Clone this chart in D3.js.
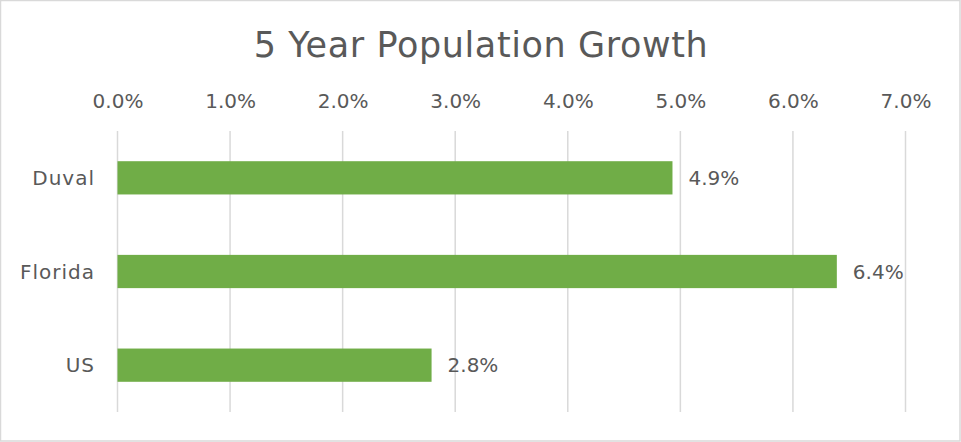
<!DOCTYPE html>
<html><head><meta charset="utf-8">
<script src="https://cdn.jsdelivr.net/npm/d3@7"></script>
<style>
html,body{margin:0;padding:0;background:#fff;}
svg{display:block;font-family:"DejaVu Sans",sans-serif;}
</style></head>
<body>
<svg id="chart" width="961" height="442"></svg>
<script>
const categories = ["Duval", "Florida", "US"];
const values = [0.0493, 0.0639, 0.0279];
const tickValues = [0, 0.01, 0.02, 0.03, 0.04, 0.05, 0.06, 0.07];
const title = "5 Year Population Growth";

const svg = d3.select("#chart");
const W = 961, H = 442;
const margin = {left: 117.5, right: 55.5, top: 131, bottom: 30};

svg.append("rect").attr("x", 0.5).attr("y", 0.5).attr("width", W - 1.5).attr("height", H - 1.5)
  .attr("fill", "#fff").attr("stroke", "#d9d9d9").attr("stroke-width", 1.5);

const x = d3.scaleLinear().domain([0, 0.07]).range([margin.left, W - margin.right]);
const y = d3.scaleBand().domain(categories).range([margin.top, H - margin.bottom]).paddingInner(0.645).paddingOuter(0.3225);

// gridlines
svg.append("g").selectAll("line").data(tickValues).join("line")
  .attr("x1", d => x(d)).attr("x2", d => x(d))
  .attr("y1", margin.top).attr("y2", H - margin.bottom)
  .attr("stroke", "#d9d9d9").attr("stroke-width", 1.5);

// top axis
const axis = d3.axisTop(x).tickValues(tickValues).tickFormat(d3.format(".1%")).tickSize(0).tickPadding(0);
const gx = svg.append("g").attr("transform", "translate(0,108)").call(axis);
gx.select(".domain").remove();
gx.selectAll("text").attr("fill", "#595959").attr("font-size", 20).attr("font-family", "DejaVu Sans").attr("dy", 0);

// category axis
const ay = d3.axisLeft(y).tickSize(0).tickPadding(0);
const gy = svg.append("g").attr("transform", "translate(95,0)").call(ay);
gy.select(".domain").remove();
gy.selectAll("text").attr("fill", "#595959").attr("font-size", 20).attr("font-family", "DejaVu Sans")
  .attr("letter-spacing", 1).attr("dy", "0.35em");

// bars
svg.append("g").selectAll("rect").data(categories).join("rect")
  .attr("x", x(0)).attr("y", d => y(d))
  .attr("width", (d, i) => x(values[i]) - x(0))
  .attr("height", y.bandwidth())
  .attr("fill", "#70ad47");

// value labels
svg.append("g").selectAll("text").data(categories).join("text")
  .attr("x", (d, i) => x(values[i]) + 16)
  .attr("y", d => y(d) + y.bandwidth() / 2)
  .attr("dy", "0.35em")
  .attr("fill", "#595959").attr("font-size", 20)
  .text((d, i) => d3.format(".1%")(values[i]));

// title
svg.append("text").attr("x", 481).attr("y", 57).attr("text-anchor", "middle")
  .attr("fill", "#595959").attr("font-size", 35).attr("letter-spacing", 0.6).text(title);
</script>
</body></html>
